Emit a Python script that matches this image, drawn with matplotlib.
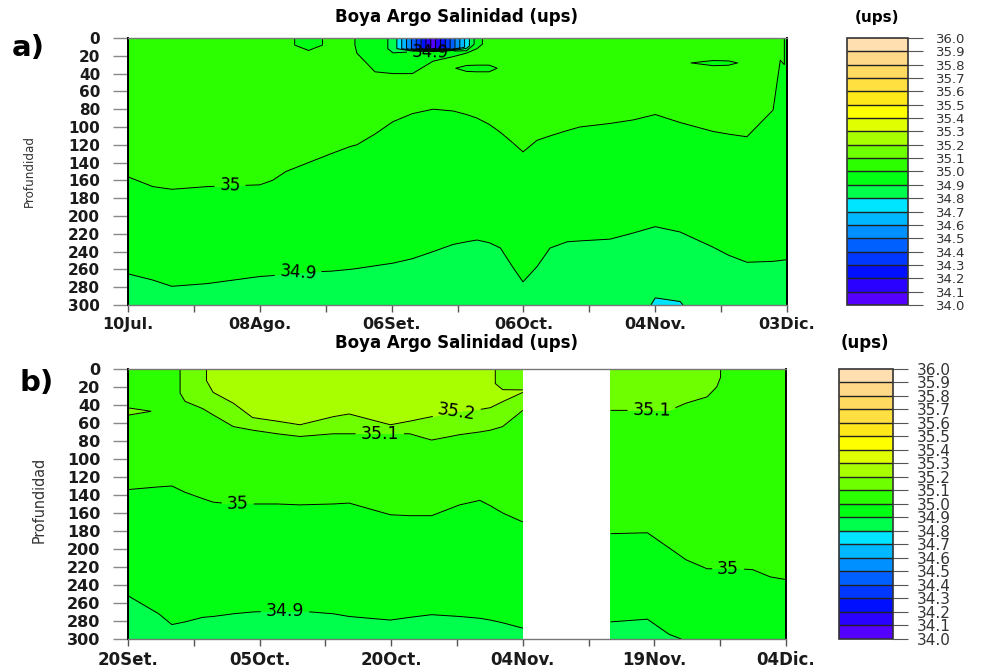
import numpy as np
import matplotlib
matplotlib.use("Agg")
import matplotlib.pyplot as plt

# salinity classes (ups) and their fill colours
levels = np.round(np.linspace(34.0, 36.0, 21), 1)
band_colors = ["#5500ff", "#2a00ff", "#0010ff", "#0038ff", "#0060ff",
               "#0090ff", "#00b8ff", "#00e5ff", "#00ff4d", "#00ff12",
               "#2bff00", "#6eff00", "#a8ff00", "#e0ff00", "#ffff00",
               "#ffe81a", "#ffe040", "#ffda60", "#ffd888", "#ffdeb0"]

# ---- a) float profiles, days since 10 Jul ----
days_a = [0, 5.5, 9.7, 17.5, 29.2, 32, 35, 40, 45, 49.2, 50.7, 54.7,
          58.7, 63, 67.6, 72, 75, 77.3, 80, 82.5, 85.3, 87.5, 90.6, 93.5,
          97.3, 100.1, 106.8, 112, 116.8, 122.3, 129.6, 133, 137.1, 142.9, 144.5, 146]
n_a = len(days_a)
top_sal_a = [35.05, 35.05, 35.05, 35.05, 35.05, 35.05, 35.05, 34.92, 35.05, 35.05, 34.98, 34.95,
             34.88, 34.48, 34.05, 34.46, 34.74, 34.96, 35.05, 35.05, 35.05, 35.05, 35.05, 35.05,
             35.05, 35.05, 35.05, 35.05, 35.05, 35.05, 35.05, 35.05, 35.05, 35.05, 35.03, 34.98]
dep_a = [
    [0] * n_a,
    [8, 8, 8, 8, 8, 8, 8, 8, 8, 8, 8, 12,
     12, 12, 12, 12, 10, 6, 8, 8, 8, 8, 8, 8,
     8, 8, 8, 8, 8, 8, 8, 8, 8, 8, 3, 8],
    [16, 16, 16, 16, 16, 16, 16, 14, 16, 16, 17, 38,
     40, 16, 16, 15, 17, 12, 16, 16, 16, 16, 16, 16,
     16, 16, 16, 16, 16, 16, 16, 16, 16, 16, 6, 16],
    [24, 24, 24, 24, 24, 24, 24, 24, 24, 24, 24, 44,
     46, 40, 26, 21, 27, 27, 27, 27, 24, 24, 24, 24,
     24, 24, 24, 24, 24, 22, 22, 22, 22, 24, 9, 24],
    [32, 32, 32, 32, 32, 32, 32, 32, 32, 32, 32, 50,
     52, 48, 36, 34, 34, 34, 34, 34, 32, 32, 32, 32,
     32, 32, 32, 32, 32, 28, 28, 28, 28, 32, 12, 32],
    [40, 40, 40, 40, 40, 40, 40, 40, 40, 40, 40, 58,
     58, 56, 44, 42, 42, 42, 42, 42, 40, 40, 40, 40,
     40, 40, 40, 40, 40, 35, 35, 35, 35, 40, 15, 40],
    # 35.0 isohaline
    [156, 167, 170, 167, 165, 160, 150, 140, 130, 122, 120, 108,
     94, 85, 80, 82, 86, 90, 97, 106, 118, 128, 115, 110,
     104, 100, 96, 92, 86, 95, 105, 108, 111, 81, 25, 100],
    # 34.9 isohaline
    [265, 272, 279, 276, 268, 267, 265, 263, 262, 260, 259, 256,
     253, 248, 240, 232, 229, 227, 230, 236, 258, 274, 257, 236,
     229, 228, 226, 219, 212, 218, 235, 244, 252, 251, 250, 249],
    [300] * n_a,
]
sal_a = [
    top_sal_a,
    top_sal_a,
    [35.05, 35.05, 35.05, 35.05, 35.05, 35.05, 35.05, 35.0, 35.05, 35.05, 35.0, 35.0,
     35.0, 34.95, 34.95, 34.95, 35.0, 35.0, 35.05, 35.05, 35.05, 35.05, 35.05, 35.05,
     35.05, 35.05, 35.05, 35.05, 35.05, 35.05, 35.05, 35.05, 35.05, 35.05, 35.03, 34.98],
    [35.05, 35.05, 35.05, 35.05, 35.05, 35.05, 35.05, 35.05, 35.05, 35.05, 35.05, 35.05,
     35.05, 35.0, 35.0, 35.0, 35.05, 35.05, 35.05, 35.05, 35.05, 35.05, 35.05, 35.05,
     35.05, 35.05, 35.05, 35.05, 35.05, 35.05, 35.05, 35.05, 35.05, 35.05, 35.03, 34.98],
    [35.05, 35.05, 35.05, 35.05, 35.05, 35.05, 35.05, 35.05, 35.05, 35.05, 35.05, 35.05,
     35.05, 35.05, 35.05, 35.01, 34.96, 34.95, 34.95, 35.02, 35.05, 35.05, 35.05, 35.05,
     35.05, 35.05, 35.05, 35.05, 35.05, 35.02, 34.96, 34.97, 35.03, 35.05, 35.03, 34.98],
    [35.05] * 34 + [35.03, 34.98],
    [35.0] * 35 + [34.97],
    [34.9] * n_a,
    [34.85] * 27 + [34.84, 34.79, 34.795] + [34.85] * 6,
]

# ---- b) float profiles, days since 20 Sep (no data 04-14 Nov) ----
days_b1 = [0, 3.5, 5.0, 6.5, 8.5, 9.7, 12, 14.2, 17, 19.6, 23.4, 25.2,
           29.9, 32.1, 34.6, 37.8, 40.1, 41.3, 42.7, 45]
n_b1 = len(days_b1)
top_sal_b1 = [35.05, 35.05, 35.05, 35.13, 35.17] + [35.25] * 12 + [35.22, 35.17, 35.17]
dep_b1 = [
    [0] * n_b1,
    [40, 40, 20, 15, 15, 10, 15, 20, 20, 20, 20, 20, 20, 20, 20, 20, 20, 15, 18, 21],
    [47, 47, 30, 25, 30, 26, 38, 54, 58, 62, 53, 50, 62, 58, 53, 47, 45, 43, 28, 24],
    [55, 55, 40, 36, 44, 51, 64, 68, 72, 75, 72, 72, 72, 72, 79, 73, 70, 68, 64, 46],
    [134, 131, 130, 137, 144, 148, 150, 150, 150, 151, 150, 149, 162, 163, 163, 151, 146, 152, 160, 170],
    [252, 272, 284, 281, 276, 275, 272, 270, 269, 269, 272, 275, 279, 276, 273, 275, 277, 279, 282, 288],
    [300] * n_b1,
]
sal_b1 = [
    top_sal_b1,
    top_sal_b1,
    [35.16, 35.08, 35.05, 35.13, 35.17] + [35.2] * 13 + [35.23, 35.21],
    [35.05, 35.05, 35.05] + [35.1] * 17,
    [35.0] * n_b1,
    [34.9] * n_b1,
    [34.85] * n_b1,
]

days_b2 = [55, 59.2, 61.7, 63.6, 66.0, 67.1, 67.8, 69.5, 71.2, 73.2, 75]
n_b2 = len(days_b2)
top_sal_b2 = [35.15] * 6 + [35.07, 35.06, 35.06, 35.06, 35.06]
dep_b2 = [
    [0] * n_b2,
    [20, 20, 20, 15, 12, 8, 10, 10, 10, 10, 10],
    [46, 46, 46, 38, 31, 20, 30, 30, 30, 30, 30],
    [183, 182, 199, 212, 222, 222, 222, 222, 223, 231, 234],
    [281, 278, 295, 280, 280, 280, 280, 280, 280, 280, 280],
    [300] * n_b2,
]
sal_b2 = [
    top_sal_b2,
    top_sal_b2,
    [35.1] * 6 + [35.05] * 5,
    [35.0] * n_b2,
    [34.9, 34.9, 34.9] + [34.93] * 8,
    [34.85, 34.85, 34.85] + [34.92] * 8,
]

depth_ticks = list(range(0, 301, 20))
xlabels_a = ["10Jul.", "08Ago.", "06Set.", "06Oct.", "04Nov.", "03Dic."]
xlabels_b = ["20Set.", "05Oct.", "20Oct.", "04Nov.", "19Nov.", "04Dic."]

lab_font = {"family": "DejaVu Sans", "weight": "bold"}


def draw_section(ax, days, depths, sals, label_levels):
    Y = np.array(depths, float)
    X = np.tile(np.array(days, float), (Y.shape[0], 1))
    Z = np.array(sals, float)
    cf = ax.contourf(X, Y, Z, levels=levels, colors=band_colors)
    plain = [v for v in levels if v not in label_levels]
    ax.contour(X, Y, Z, levels=plain, colors="k", linewidths=0.7)
    cs = ax.contour(X, Y, Z, levels=label_levels, colors="k", linewidths=0.7)
    return cf, cs


def style_axes(ax, xmax, xlabels, size):
    ax.set_xlim(0, xmax)
    ax.set_ylim(300, 0)
    ax.set_yticks(depth_ticks)
    ax.set_yticklabels([str(d) for d in depth_ticks], fontdict=lab_font, fontsize=size)
    xt = np.linspace(0, xmax, 11)
    ax.set_xticks(xt)
    ax.set_xticklabels([xlabels[i // 2] if i % 2 == 0 else "" for i in range(11)],
                       fontdict=lab_font, fontsize=size + 0.5)
    ax.tick_params(axis="y", length=11, width=1, color="#888888", pad=9, labelcolor="#1a1a1a")
    ax.tick_params(axis="x", length=5, width=1, color="#555555", pad=4, labelcolor="#1a1a1a")
    for side in ("left", "right"):
        ax.spines[side].set_color("black")
        ax.spines[side].set_linewidth(1.4)
    for side in ("top", "bottom"):
        ax.spines[side].set_color("#777777")
        ax.spines[side].set_linewidth(1.0)


def style_cbar(fig, cf, cax, size, pad):
    cb = fig.colorbar(cf, cax=cax, ticks=levels, drawedges=True)
    cb.ax.set_yticklabels([f"{v:.1f}" for v in levels])
    cb.dividers.set_color("#222222")
    cb.dividers.set_linewidth(1.0)
    cb.outline.set_edgecolor("#333333")
    cb.outline.set_linewidth(1.2)
    cb.ax.tick_params(length=11, width=0.8, color="#555555", labelsize=size,
                      pad=pad, labelcolor="#333333")


fmt = lambda v: f"{v:g}"

fig = plt.figure(figsize=(9.9, 6.7), dpi=100)

# panel a
ax_a = fig.add_axes([0.1293, 0.5448, 0.6657, 0.3985])
cf_a, cs_a = draw_section(ax_a, days_a, dep_a, sal_a, [34.9, 35.0])
ax_a.clabel(cs_a, inline=True, fontsize=12, fmt=fmt,
            manual=[(22.6, 166), (37.7, 266), (67.0, 16)])
style_axes(ax_a, 146, xlabels_a, 11)
cax_a = fig.add_axes([0.8556, 0.5448, 0.0616, 0.3985])
style_cbar(fig, cf_a, cax_a, 9.5, 9)

# panel b, two stretches either side of the gap
ax_b = fig.add_axes([0.1293, 0.0463, 0.6647, 0.403])
cf_b, cs_b1 = draw_section(ax_b, days_b1, dep_b1, sal_b1, [34.9, 35.0, 35.1, 35.2])
_, cs_b2 = draw_section(ax_b, days_b2, dep_b2, sal_b2, [35.0, 35.1])
ax_b.clabel(cs_b1, inline=True, fontsize=12.5, fmt=fmt,
            manual=[(37.5, 50), (28.7, 72), (12.5, 150), (17.9, 270)])
ax_b.clabel(cs_b2, inline=True, fontsize=12.5, fmt=fmt,
            manual=[(59.7, 46), (68.4, 222)])
style_axes(ax_b, 75, xlabels_b, 11.5)
cax_b = fig.add_axes([0.8475, 0.0463, 0.0545, 0.403])
style_cbar(fig, cf_b, cax_b, 11, 6)

# titles and panel tags
fig.text(0.4616, 0.974, "Boya Argo Salinidad (ups)", ha="center", va="center",
         fontsize=12, fontweight="bold")
fig.text(0.4616, 0.488, "Boya Argo Salinidad (ups)", ha="center", va="center",
         fontsize=12, fontweight="bold")
fig.text(0.886, 0.974, "(ups)", ha="center", va="center", fontsize=11, fontweight="bold")
fig.text(0.874, 0.488, "(ups)", ha="center", va="center", fontsize=12, fontweight="bold")
fig.text(0.012, 0.928, "a)", ha="left", va="center", fontsize=21, fontweight="bold")
fig.text(0.02, 0.428, "b)", ha="left", va="center", fontsize=21, fontweight="bold")
fig.text(0.030, 0.745, "Profundidad", rotation=90, ha="center", va="center",
         fontsize=9.5, family="DejaVu Sans", fontstretch="condensed", color="#333333")
fig.text(0.040, 0.254, "Profundidad", rotation=90, ha="center", va="center",
         fontsize=11.5, family="DejaVu Sans", fontstretch="condensed", color="#333333")

fig.savefig("out.png", dpi=100)
